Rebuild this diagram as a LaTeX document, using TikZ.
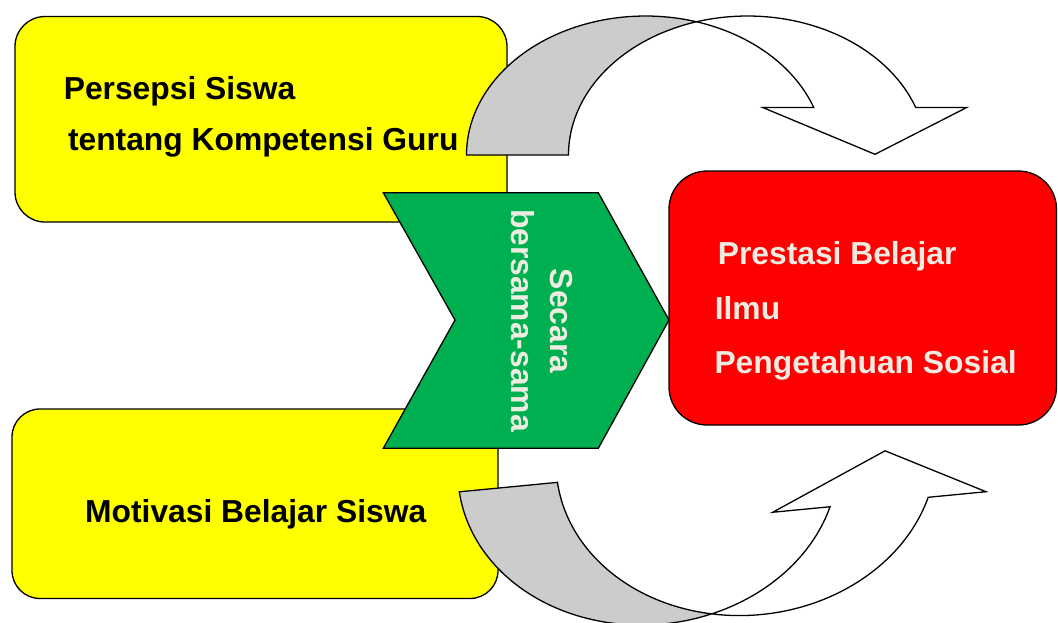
\documentclass[tikz,border=0pt]{standalone}
\usepackage{fontspec}
\setmainfont{Liberation Sans}
\definecolor{boxyellow}{HTML}{FFFF00}
\definecolor{boxred}{HTML}{FF0000}
\definecolor{boxgreen}{HTML}{00B050}
\definecolor{bandgray}{HTML}{CCCCCC}
\definecolor{beige}{HTML}{EEECE1}
\begin{document}
\begin{tikzpicture}[x=1pt,y=-1pt,
  box/.style={draw=black, line width=1.3pt, inner sep=0pt},
  lbl/.style={inner sep=0pt, font=\fontsize{31.8}{38}\selectfont\bfseries},
  bandline/.style={draw=black, line width=1.3pt, line join=miter},
]
\useasboundingbox (0,0) rectangle (1058,622);

% yellow input boxes
\node[box, fill=boxyellow, rounded corners=30pt, minimum width=492pt, minimum height=205.5pt] (persepsi) at (261,119.25) {};
\node[box, fill=boxyellow, rounded corners=28pt, minimum width=486pt, minimum height=189.5pt] (motivasi) at (255,503.75) {};

% top curved arrow (down)
\draw[bandline, fill=bandgray]
  plot[domain=180:73.45, samples=60, variable=\t] ({645.5+179*cos(\t)},{155-139*sin(\t)})
  -- plot[domain=106.55:180, samples=60, variable=\t] ({747.5+179*cos(\t)},{155-139*sin(\t)})
  -- cycle;
\draw[bandline, fill=white]
  plot[domain=73.45:20, samples=60, variable=\t] ({645.5+179*cos(\t)},{155-139*sin(\t)})
  -- (762.7,107.5) coordinate (twl) -- (875,154.3) coordinate (ttip) -- (966.7,107.5) coordinate (twr)
  -- plot[domain=20:106.55, samples=60, variable=\t] ({747.5+179*cos(\t)},{155-139*sin(\t)})
  -- cycle;

% bottom curved arrow (up), slightly rotated
\begin{scope}[rotate around={5.5:(700,550)}]
\draw[bandline, fill=bandgray]
  plot[domain=182.54:285, samples=60, variable=\t] ({656.2+190.4*cos(\t)},{462-158.1*sin(\t)})
  -- plot[domain=255:182.54, samples=60, variable=\t] ({754.8+190.4*cos(\t)},{462-158.1*sin(\t)})
  -- cycle;
\draw[bandline, fill=white]
  plot[domain=285:338.71, samples=60, variable=\t] ({656.2+190.4*cos(\t)},{462-158.1*sin(\t)})
  -- (776,519.4) coordinate (bwl) -- (893.7,469) coordinate (btip) -- (990.3,519.4) coordinate (bwr)
  -- plot[domain=338.71:255, samples=60, variable=\t] ({754.8+190.4*cos(\t)},{462-158.1*sin(\t)})
  -- cycle;
\end{scope}

% green chevron
\draw[bandline, fill=boxgreen]
  (383.3,192.7) coordinate (c1) -- (598.3,192.7) coordinate (c2) -- (669,320) coordinate (c3)
  -- (598.3,448.3) coordinate (c4) -- (383.3,448.3) coordinate (c5) -- (455,320) coordinate (c6) -- cycle;

% red result box
\node[box, fill=boxred, rounded corners=38pt, minimum width=387.5pt, minimum height=254pt] (prestasi) at (862.75,298) {};

% texts
\node[lbl, anchor=base west] (t1) at (63.6,99.3) {Persepsi Siswa};
\node[lbl, anchor=base west] (t2) at (67.8,150.5) {tentang Kompetensi Guru};
\node[lbl, anchor=base west] (t3) at (85,522.7) {Motivasi Belajar Siswa};
\node[lbl, anchor=base west, text=beige] (t4) at (717.6,264) {Prestasi Belajar};
\node[lbl, anchor=base west, text=beige] (t5) at (714.6,319.3) {Ilmu};
\node[lbl, anchor=base west, text=beige] (t6) at (714.3,373.3) {Pengetahuan Sosial};
\node[lbl, rotate=-90, anchor=base, text=beige] (g1) at (550,321) {Secara};
\node[lbl, rotate=-90, anchor=base, text=beige] (g2) at (511.7,320.5) {bersama-sama};
\end{tikzpicture}
\end{document}
